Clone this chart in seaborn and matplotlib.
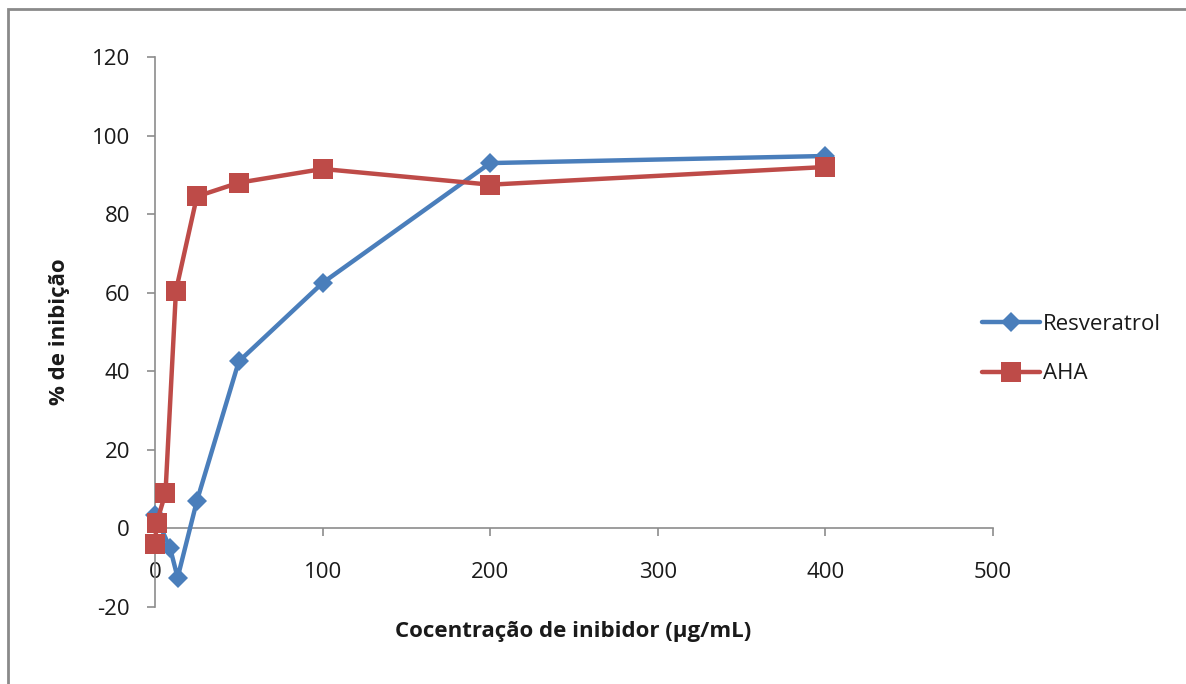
import matplotlib
matplotlib.use("Agg")
import matplotlib.pyplot as plt
import seaborn as sns
import pandas as pd
from matplotlib.patches import Rectangle

# Inhibition data (% inhibition vs inhibitor concentration in µg/mL)
resv_conc = [0, 9, 13.5, 25, 50, 100, 200, 400]
resv_inhib = [3.5, -5, -12.5, 7, 42.5, 62.5, 93, 94.8]
aha_conc = [0, 1, 6.25, 12.5, 25, 50, 100, 200, 400]
aha_inhib = [-4, 1.5, 9, 60.5, 84.5, 88, 91.5, 87.5, 92]

series_names = ["Resveratrol", "AHA"]
x_ticks = [0, 100, 200, 300, 400, 500]
y_ticks = [-20, 0, 20, 40, 60, 80, 100, 120]

df = pd.concat([
    pd.DataFrame({"conc": resv_conc, "inhib": resv_inhib, "serie": series_names[0]}),
    pd.DataFrame({"conc": aha_conc, "inhib": aha_inhib, "serie": series_names[1]}),
], ignore_index=True)

sns.set_theme(style="white")
plt.rcParams["font.family"] = ["Open Sans", "DejaVu Sans"]

fig = plt.figure(figsize=(11.86, 6.84), dpi=100)
ax = fig.add_axes([155 / 1186, 1 - 607 / 684, (993 - 155) / 1186, (607 - 57) / 684])

palette = {"Resveratrol": "#4A7EBB", "AHA": "#BE4B48"}
markers = {"Resveratrol": "D", "AHA": "s"}
sizes = {"Resveratrol": 10, "AHA": 14}

for name in series_names:
    sub = df[df["serie"] == name]
    sns.lineplot(data=sub, x="conc", y="inhib", ax=ax, color=palette[name],
                 marker=markers[name], markersize=sizes[name], markeredgewidth=0,
                 linewidth=3.2, label=name, sort=False, estimator=None,
                 zorder=3 if name == "AHA" else 2, clip_on=False)

ax.set_xlim(0, 500)
ax.set_ylim(-20, 120)
ax.set_xticks(x_ticks)
ax.set_yticks(y_ticks)
ax.set_xticklabels([str(v) for v in x_ticks])
ax.set_yticklabels([str(v) for v in y_ticks])

for s in ["top", "right"]:
    ax.spines[s].set_visible(False)
ax.spines["left"].set_color("#8c8c8c")
ax.spines["bottom"].set_color("#8c8c8c")
ax.spines["left"].set_linewidth(1.2)
ax.spines["bottom"].set_linewidth(1.2)
ax.spines["bottom"].set_position(("data", 0))
ax.spines["left"].set_zorder(1)
ax.spines["bottom"].set_zorder(1)

ax.tick_params(axis="y", direction="out", length=6, width=1.2, color="#8c8c8c",
               labelsize=16, pad=12, left=True)
ax.tick_params(axis="x", direction="out", length=6, width=1.2, color="#8c8c8c",
               labelsize=16, pad=18, bottom=True)
for lab in ax.get_xticklabels() + ax.get_yticklabels():
    lab.set_color("#1a1a1a")

ax.set_xlabel("")
ax.set_ylabel("")
fig.text(60 / 1186, 1 - 332 / 684, "% de inibição", rotation=90,
         ha="center", va="center", fontsize=16, fontweight="bold", color="#1a1a1a")
fig.text((395 + 752) / 2 / 1186, 1 - 632 / 684, "Cocentração de inibidor (µg/mL)",
         ha="center", va="center", fontsize=16, fontweight="bold", color="#1a1a1a")

leg = ax.legend(loc="center left", bbox_to_anchor=(962 / 1186, 1 - 349 / 684),
                bbox_transform=fig.transFigure, frameon=False, fontsize=16,
                handlelength=2.6, handletextpad=0.15, labelspacing=1.3)
for t in leg.get_texts():
    t.set_color("#1a1a1a")

# outer chart frame (top and left edges visible)
fig.patches.append(Rectangle((8 / 1186, -0.1), 1.2, 1 - 9 / 684 + 0.1,
                             transform=fig.transFigure, fill=False,
                             edgecolor="#8a8a8a", linewidth=2.0))

fig.savefig("out.png", dpi=100)
